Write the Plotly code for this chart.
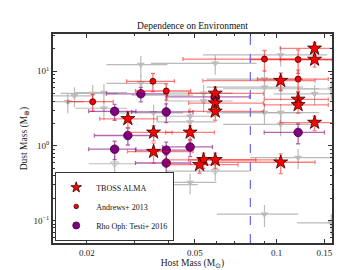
import plotly.graph_objects as go

# TBOSS ALMA
tb_x = [0.138, 0.138, 0.1035, 0.0594, 0.0594, 0.0594, 0.120, 0.120, 0.138, 0.048, 0.0352, 0.0283, 0.0352, 0.0538, 0.0594, 0.052, 0.1035]
tb_y = [20.3, 14.4, 7.5, 5.06, 3.75, 2.91, 4.2, 3.55, 2.06, 1.52, 1.52, 2.31, 0.84, 0.652, 0.652, 0.561, 0.605]
tb_xp = [0.035, 0.035, 0.035, 0.03, 0.03, 0.03, 0.035, 0.035, 0.035, 0.011, 0.006, 0.008, 0.014, 0.03, 0.04, 0.02, 0.035]
tb_xm = [0.035, 0.035, 0.05, 0.012, 0.012, 0.012, 0.03, 0.03, 0.035, 0.009, 0.007, 0.006, 0.007, 0.015, 0.012, 0.012, 0.045]
tb_ye = [4, 3, 2, 1.1, 0.8, 0.7, 1.0, 0.8, 0.45, 0.35, 0.35, 0.55, 0.25, 0.15, 0.15, 0.13, 0.18]

# Andrews+ 2013
an_x = [0.0902, 0.120, 0.120, 0.035, 0.0392, 0.021]
an_y = [14.6, 14.4, 7.87, 7.35, 5.45, 3.92]
an_xe = [0.045, 0.04, 0.035, 0.007, 0.009, 0.004]
an_ye = [4.5, 5, 2.5, 2, 1.3, 1]

# Rho Oph: Testi+ 2016
ro_x = [0.0316, 0.0253, 0.0392, 0.0283, 0.0253, 0.0392, 0.048, 0.0392, 0.0594, 0.120]
ro_y = [5.0, 2.91, 2.86, 1.38, 0.906, 0.879, 0.97, 0.591, 4.55, 1.52]
ro_xe = [0.008, 0.005, 0.01, 0.007, 0.005, 0.009, 0.01, 0.009, 0.02, 0.03]
ro_ye = [1.1, 0.7, 0.8, 0.35, 0.25, 0.25, 0.25, 0.17, 1, 0.45]

# other regions (grey, filled)
gr_x = [0.0316, 0.0316, 0.017, 0.018, 0.021, 0.0231, 0.0231, 0.0392, 0.0352, 0.048, 0.048, 0.0594, 0.1035, 0.0902, 0.0902,
        0.1035, 0.0538, 0.0538, 0.138, 0.0902, 0.1035, 0.1035, 0.159, 0.120, 0.0316, 0.0392, 0.048, 0.0902, 0.159]
gr_y = [12.3, 6.9, 3.92, 4.7, 5.06, 5.2, 3.2, 4.8, 2.78, 2.5, 2.1, 12.8, 16.6, 7.87, 6.14,
        5.84, 5.1, 4.0, 5.0, 2.8, 2.8, 1.95, 5.8, 0.70, 0.315, 0.303, 0.325, 0.122, 0.093]
gr_xe = [0.008, 0.008, 0.0025, 0.003, 0.005, 0.005, 0.005, 0.01, 0.01, 0.012, 0.012, 0.025, 0.05, 0.035, 0.035,
         0.04, 0.015, 0.015, 0.04, 0.035, 0.04, 0.04, 0.04, 0.04, 0.01, 0.012, 0.012, 0.03, 0.04]
gr_ye = [3.7, 2, 1.2, 1.4, 1.5, 1.5, 1, 1.4, 0.8, 0.75, 0.6, 3.8, 5, 2.4, 1.8,
         1.8, 1.5, 1.2, 1.5, 0.85, 0.85, 0.6, 1.7, 0.21, 0.09, 0.09, 0.1, 0.04, 0.03]

# grey, open (upper limits)
go_x = [0.0253, 0.0283, 0.0594]
go_y = [0.578, 0.272, 0.46]
go_xe = [0.005, 0.007, 0.02]
go_ye = [0.15, 0.08, 0.12]

x_ticks = [0.02, 0.05, 0.1, 0.15]
x_ticktext = ["0.02", "0.05", "0.1", "0.15"]
x_minor = [0.02, 0.03, 0.04, 0.05, 0.06, 0.07, 0.08, 0.09, 0.1]
y_ticks = [0.1, 1, 10]
y_ticktext = ["10<sup>\u22121</sup>", "10<sup>0</sup>", "10<sup>1</sup>"]
y_minor = [0.06, 0.07, 0.08, 0.09, 0.2, 0.3, 0.4, 0.5, 0.6, 0.7, 0.8, 0.9, 2, 3, 4, 5, 6, 7, 8, 9, 20, 30]
env_line = 0.08

FONT = "Liberation Serif"
fig = go.Figure()

grey_err = "rgba(175,175,175,0.85)"
fig.add_trace(go.Scatter(
    x=gr_x, y=gr_y, mode="markers", showlegend=False,
    marker=dict(symbol="triangle-down", size=7, color="#bcbcbc", line=dict(width=0)),
    error_x=dict(type="data", array=gr_xe, color=grey_err, thickness=1.2, width=0),
    error_y=dict(type="data", array=gr_ye, color=grey_err, thickness=1.2, width=0),
))
fig.add_trace(go.Scatter(
    x=go_x, y=go_y, mode="markers", showlegend=False,
    marker=dict(symbol="triangle-down-open", size=7, color="#bcbcbc", line=dict(width=1)),
    error_x=dict(type="data", array=go_xe, color=grey_err, thickness=1.2, width=0),
    error_y=dict(type="data", array=go_ye, color=grey_err, thickness=1.2, width=0),
))

series = [
    dict(x=ro_x, y=ro_y, xp=ro_xe, xm=ro_xe, ye=ro_ye, name="Rho Oph: Testi+ 2016", rank=3,
         sym="circle", size=8.5, lsize=7, color="#800080", edge="#3a003a", err="rgba(128,0,128,0.6)"),
    dict(x=an_x, y=an_y, xp=an_xe, xm=an_xe, ye=an_ye, name="Andrews+ 2013", rank=2,
         sym="circle", size=6, lsize=4.5, color="#ff0000", edge="#300000", err="rgba(255,0,0,0.55)"),
    dict(x=tb_x, y=tb_y, xp=tb_xp, xm=tb_xm, ye=tb_ye, name="TBOSS ALMA", rank=1,
         sym="star", size=10.5, lsize=8, color="#ff0000", edge="#300000", err="rgba(255,0,0,0.5)"),
]
for s in series:
    fig.add_trace(go.Scatter(
        x=s["x"], y=s["y"], mode="markers", showlegend=False,
        marker=dict(symbol=s["sym"], size=s["size"], color=s["color"], line=dict(width=0.8, color=s["edge"])),
        error_x=dict(type="data", array=s["xp"], arrayminus=s["xm"], color=s["err"], thickness=1.3, width=2),
        error_y=dict(type="data", array=s["ye"], color=s["err"], thickness=1.3, width=2),
    ))
    # legend entry
    fig.add_trace(go.Scatter(
        x=[None], y=[None], mode="markers", name=s["name"], legendrank=s["rank"],
        marker=dict(symbol=s["sym"], size=s["lsize"], color=s["color"], line=dict(width=0.8, color=s["edge"])),
    ))

fig.add_shape(type="line", x0=env_line, x1=env_line, xref="x", y0=0, y1=1, yref="paper",
              line=dict(color="#6666ff", width=1.2, dash="dash"))

axis_common = dict(
    type="log", showgrid=False, zeroline=False, showline=True, mirror="allticks",
    linecolor="#333333", linewidth=2, ticks="inside", ticklen=4, tickcolor="#333333",
    tickfont=dict(family=FONT, size=9, color="#222222"),
)
fig.update_xaxes(**axis_common, range=[-1.824, -0.796], tickvals=x_ticks, ticktext=x_ticktext,
                 minor=dict(tickvals=x_minor, ticks="inside", ticklen=2, tickcolor="#333333"),
                 title=dict(text="Host Mass (M<sub>\u2299</sub>)", font=dict(family=FONT, size=9.5, color="#222222"), standoff=2))
fig.update_yaxes(**axis_common, range=[-1.3, 1.5], tickvals=y_ticks, ticktext=y_ticktext,
                 minor=dict(tickvals=y_minor, ticks="inside", ticklen=2, tickcolor="#333333"),
                 title=dict(text="Dust Mass (M<sub>\u2295</sub>)", font=dict(family=FONT, size=9.5, color="#222222"), standoff=4))

fig.update_layout(
    width=360, height=270,
    margin=dict(l=45, r=36, t=26, b=28),
    paper_bgcolor="white", plot_bgcolor="white",
    title=dict(text="Dependence on Environment", x=0.5, xref="paper", xanchor="center",
               y=1, yref="container", yanchor="top", pad=dict(t=14),
               font=dict(family=FONT, size=9.5, color="#111111")),
    legend=dict(x=0.008, y=0.01, xanchor="left", yanchor="bottom",
                bgcolor="white", bordercolor="#333333", borderwidth=1,
                font=dict(family=FONT, size=8, color="#111111"),
                tracegroupgap=0, itemwidth=30),
    showlegend=True,
)

fig.write_html("out.html")
